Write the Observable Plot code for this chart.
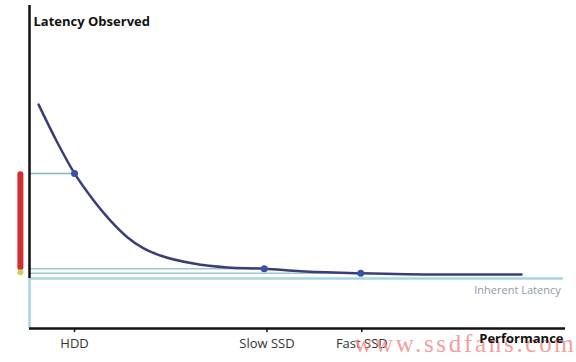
<!DOCTYPE html>
<html>
<head>
<meta charset="utf-8">
<script src="https://cdn.jsdelivr.net/npm/d3@7"></script>
<script src="https://cdn.jsdelivr.net/npm/@observablehq/plot@0.6"></script>
<style>
  html, body { margin: 0; padding: 0; background: #fff; }
  #chart svg { display: block; }
</style>
</head>
<body>
<div id="chart"></div>
<script>
// Performance (x, arbitrary units 0-100) vs observed latency (y, arbitrary units 0-100)
const curveX = [1.7, 5.0, 8.4, 11.9, 15.1, 18.3, 21.3, 24.4, 30.6, 36.9, 43.8, 50.6, 61.8, 76.7, 91.8];
const curveY = [69.3, 58.2, 48.0, 39.8, 33.4, 28.2, 24.8, 22.6, 20.1, 18.9, 18.5, 17.7, 17.1, 16.7, 16.7];

const deviceNames = ["HDD", "Slow SSD", "Fast SSD"];
const deviceX = [8.4, 43.8, 61.8];
const deviceY = [48.0, 18.5, 17.1];
const tickX = [8.4, 44.3, 62.0];

const inherentLatency = 15.5;
const inherentEnd = 99.6;
const axisTop = 100;
const bandX = -1.7;
const bandLatency = [18.8, 47.6];
const bandDotLatency = 17.4;

const titleY = "Latency Observed";
const titleX = "Performance";
const inherentLabel = "Inherent Latency";
const watermark = "www.ssdfans.com";

const curve = curveX.map((x, i) => ({x, y: curveY[i]}));
const devices = deviceNames.map((name, i) => ({name, x: deviceX[i], y: deviceY[i], tick: tickX[i]}));

const font = "'Open Sans', 'DejaVu Sans', sans-serif";

const chart = Plot.plot({
  width: 576,
  height: 362,
  marginLeft: 29,
  marginRight: 11,
  marginTop: 5,
  marginBottom: 34,
  style: {fontFamily: font, background: "#fff", overflow: "visible"},
  x: {domain: [0, 100], axis: null},
  y: {domain: [0, 100], axis: null},
  marks: [
    // reference lines from y-axis to each device point
    Plot.ruleY(devices.slice(0, 1), {y: "y", x1: 0, x2: "x", stroke: "#7fb6c0", strokeWidth: 1.5}),
    Plot.ruleY(devices.slice(1), {y: "y", x1: 0, x2: "x", stroke: "#9cc6d0", strokeWidth: 1.5}),
    // inherent latency
    Plot.ruleY([inherentLatency], {x1: 0, x2: inherentEnd, stroke: "#a6d6e0", strokeWidth: 2.5}),
    Plot.ruleX([0], {y1: 0, y2: inherentLatency, stroke: "#a6d6e0", strokeWidth: 2.5}),
    Plot.text([inherentLabel], {x: inherentEnd - 0.5, y: inherentLatency, dy: 12, textAnchor: "end",
      fill: "#8a9bb0", fontSize: 11}),
    // y-axis line (black)
    Plot.ruleX([0], {y1: inherentLatency, y2: axisTop, stroke: "#111", strokeWidth: 2.5}),
    // x-axis line
    Plot.ruleY([0], {x1: 0, x2: 100, stroke: "#111", strokeWidth: 2.5}),
    // ticks and labels
    Plot.axisX(tickX, {tickFormat: (d, i) => deviceNames[i], tickSize: 4, tickPadding: 6, label: null,
      fontSize: 13, color: "#333", stroke: "#111", strokeWidth: 1.5}),
    // latency curve
    Plot.line(curve, {x: "x", y: "y", curve: "monotone-x", stroke: "#3b3d78", strokeWidth: 2.5}),
    Plot.dot(devices, {x: "x", y: "y", r: 3.5, fill: "#3a4fa6", stroke: "none"}),
    // red band and dot
    Plot.ruleX([bandX], {y1: bandLatency[0], y2: bandLatency[1], stroke: "#d22d33", strokeWidth: 6, strokeLinecap: "round"}),
    Plot.dot([bandX], {x: d => d, y: bandDotLatency, r: 3, fill: "#c8d35a", stroke: "none"}),
    // watermark
    Plot.text([watermark], {frameAnchor: "bottom-right", dx: 11, dy: 23, textAnchor: "end",
      fontFamily: "'Liberation Serif', 'DejaVu Serif', serif", fontSize: 25, fill: "#f28b8b",
      fillOpacity: 0.85}),
    // titles
    Plot.text([titleY], {frameAnchor: "top-left", dx: 4, dy: 11, textAnchor: "start",
      fontWeight: "bold", fontSize: 13, fill: "#111"}),
    Plot.text([titleX], {frameAnchor: "bottom-right", dx: -2, dy: 14, textAnchor: "end",
      fontWeight: "bold", fontSize: 13, fill: "#111"})
  ]
});

d3.select(chart).selectAll("text")
  .filter(function() { return this.textContent === watermark; })
  .style("letter-spacing", "2.7px");

document.getElementById("chart").appendChild(chart);
</script>
</body>
</html>
